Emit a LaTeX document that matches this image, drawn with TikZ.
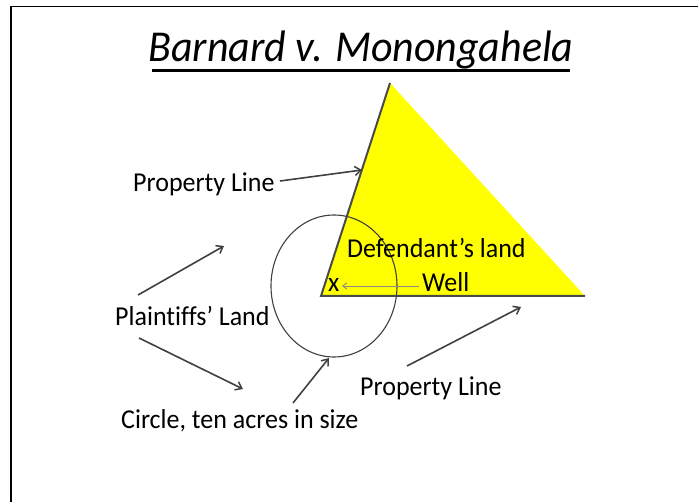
\documentclass[tikz,border=0pt]{standalone}
\usepackage{fontspec}
\setmainfont[Ligatures=NoCommon]{Carlito}
\usetikzlibrary{arrows.meta}
\definecolor{linegray}{HTML}{404040}
\definecolor{edgegray}{HTML}{4A4A4A}
\definecolor{wellgray}{HTML}{8A8A8A}
\definecolor{landyellow}{HTML}{FFFF00}
\tikzset{
  lbl/.style={anchor=base west, inner sep=0pt, font=\fontsize{26}{31}\selectfont, yscale=1.05},
  ptr/.style={draw=linegray, line width=1.6pt, -{Straight Barb[length=6pt,width=9pt,line width=1.5pt]}},
}
\begin{document}
\begin{tikzpicture}[x=1pt,y=-1pt]
\useasboundingbox (0,0) rectangle (698,502);
% frame
\draw[line width=1.6pt, black] (11,502) -- (11,6.5) -- (698,6.5);
% triangle
\coordinate (apex) at (390,83);
\coordinate (bl) at (321,296);
\coordinate (br) at (585,296);
\fill[landyellow] (apex) -- (bl) -- (br) -- cycle;
\draw[edgegray, line width=2pt] (apex) -- (bl) -- (br);
% circle
\draw[linegray, line width=1.1pt] (334,286) ellipse [x radius=63, y radius=71];
% title
\node[anchor=base, inner sep=0pt, font=\fontsize{42}{50}\selectfont\itshape, yscale=1.05] (title) at (361,62) {Barnard v. Monongahela};
\draw[black, line width=2.2pt] (152,70.5) -- (570,70.5);
% labels
\node[lbl] (pl1) at (133,192) {Property Line};
\node[lbl] (def) at (347,258) {Defendant’s land};
\node[lbl] (x) at (328,292) {x};
\node[lbl] (well) at (422,292) {Well};
\node[lbl] (plland) at (115,325) {Plaintiffs’ Land};
\node[lbl] (pl2) at (360,395) {Property Line};
\node[lbl] (circ) at (121,428) {Circle, ten acres in size};
% arrow endpoints
\coordinate (a1s) at (280,181); \coordinate (a1e) at (362,170);
\coordinate (a2s) at (138,295); \coordinate (a2e) at (224,246);
\coordinate (a3s) at (139,338); \coordinate (a3e) at (243,389);
\coordinate (a4s) at (293,403); \coordinate (a4e) at (329,358);
\coordinate (a5s) at (407,366); \coordinate (a5e) at (521,307);
\coordinate (a6s) at (419,286); \coordinate (a6e) at (342,286);
\draw[ptr] (a1s) -- (a1e);
\draw[ptr] (a2s) -- (a2e);
\draw[ptr] (a3s) -- (a3e);
\draw[ptr] (a4s) -- (a4e);
\draw[ptr] (a5s) -- (a5e);
\draw[draw=wellgray, line width=0.9pt, -{Straight Barb[length=4pt,width=6pt,line width=0.9pt]}] (a6s) -- (a6e);
\end{tikzpicture}
\end{document}
